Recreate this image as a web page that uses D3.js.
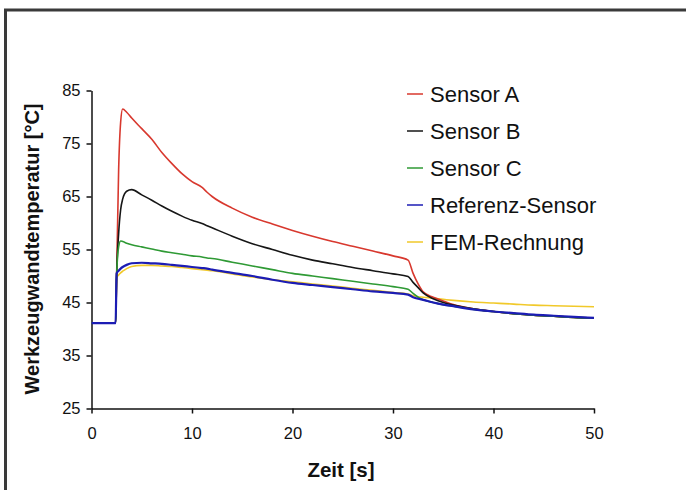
<!DOCTYPE html>
<html>
<head>
<meta charset="utf-8">
<script src="https://cdn.jsdelivr.net/npm/d3@7"></script>
<style>
  html, body { margin: 0; padding: 0; background: #fff; }
  svg { display: block; }
  text { font-family: "Liberation Sans", Arial, sans-serif; fill: #111; }
</style>
</head>
<body>
<svg id="chart" width="686" height="490"></svg>
<script>
// ---- data ----
const time = [0, 2.4, 2.5, 2.7, 2.9, 3.1, 3.5, 4, 5, 6, 7, 8, 9, 10, 11, 11.5, 12, 14, 16, 18, 20, 22, 24, 26, 28, 30, 31.5, 32, 32.5, 33, 34, 35, 36, 38, 40, 42, 44, 46, 48, 50];
const sensorA = [41.1, 41.1, 50, 70, 79, 81.5, 80.9, 79.8, 77.8, 75.8, 73.3, 71.2, 69.3, 67.8, 66.7, 65.8, 65.0, 62.8, 61.1, 59.8, 58.6, 57.5, 56.5, 55.6, 54.7, 53.8, 53.0, 50.5, 48.5, 47.0, 46.0, 45.3, 44.6, 43.8, 43.3, 42.9, 42.6, 42.4, 42.2, 42.1];
const sensorB = [41.1, 41.1, 50, 58, 62.5, 64.5, 66.0, 66.3, 65.3, 64.3, 63.2, 62.2, 61.3, 60.5, 59.9, 59.5, 59.1, 57.5, 56.1, 55.0, 53.9, 53.0, 52.3, 51.6, 51.0, 50.4, 49.9, 48.8, 47.8, 46.8, 45.7, 45.0, 44.5, 43.8, 43.3, 42.9, 42.6, 42.4, 42.2, 42.1];
const sensorC = [41.1, 41.1, 50, 55.5, 56.6, 56.5, 56.2, 55.9, 55.5, 55.1, 54.7, 54.4, 54.1, 53.8, 53.6, 53.4, 53.3, 52.6, 51.9, 51.2, 50.5, 50.0, 49.5, 49.0, 48.5, 48.0, 47.5, 46.7, 46.0, 45.5, 45.0, 44.6, 44.3, 43.7, 43.3, 42.9, 42.6, 42.4, 42.2, 42.1];
const referenz = [41.1, 41.1, 50.5, 51.0, 51.4, 51.7, 52.1, 52.4, 52.5, 52.4, 52.3, 52.1, 51.9, 51.7, 51.5, 51.4, 51.2, 50.6, 50.0, 49.3, 48.7, 48.3, 47.9, 47.5, 47.1, 46.8, 46.5, 46.0, 45.7, 45.5, 45.0, 44.6, 44.3, 43.7, 43.3, 43.0, 42.7, 42.5, 42.3, 42.1];
const fem = [41.1, 41.1, 49.6, 50.2, 50.6, 50.9, 51.4, 51.8, 52.0, 52.0, 51.9, 51.8, 51.6, 51.4, 51.2, 51.1, 51.0, 50.4, 49.8, 49.3, 48.9, 48.5, 48.1, 47.7, 47.3, 46.9, 46.6, 46.3, 46.1, 46.0, 45.8, 45.6, 45.4, 45.1, 44.9, 44.7, 44.5, 44.4, 44.3, 44.2];

const seriesNames = ["Sensor A", "Sensor B", "Sensor C", "Referenz-Sensor", "FEM-Rechnung"];
const seriesValues = [sensorA, sensorB, sensorC, referenz, fem];
const seriesColors = ["#d8382e", "#161616", "#2f9a35", "#1c1cb4", "#f1c92a"];
const drawOrder = [4, 0, 1, 2, 3];

const xTicks = [0, 10, 20, 30, 40, 50];
const yTicks = [25, 35, 45, 55, 65, 75, 85];
const xTitle = "Zeit [s]";
const yTitle = "Werkzeugwandtemperatur [°C]";

// ---- layout ----
const svg = d3.select("#chart");
const x = d3.scaleLinear().domain([0, 50]).range([91.5, 594]);
const y = d3.scaleLinear().domain([25, 85]).range([408.5, 90.5]);

// frame
svg.append("path")
  .attr("d", "M5.5,490 V10 H686")
  .attr("fill", "none").attr("stroke", "#3a3a3a").attr("stroke-width", 3);

// axes
const xAxis = svg.append("g").attr("transform", `translate(0,${y(25)})`)
  .call(d3.axisBottom(x).tickValues(xTicks).tickSize(5).tickSizeOuter(0).tickPadding(14));
const yAxis = svg.append("g").attr("transform", `translate(${x(0)},0)`)
  .call(d3.axisLeft(y).tickValues(yTicks).tickSize(5).tickSizeOuter(0).tickPadding(6));
[xAxis, yAxis].forEach(g => {
  g.select(".domain").attr("stroke", "#111").attr("stroke-width", 1.5);
  g.selectAll(".tick line").attr("stroke", "#111").attr("stroke-width", 1.5);
  g.selectAll(".tick text").attr("font-size", 16.5).attr("fill", "#111")
    .attr("font-family", "Liberation Sans, Arial, sans-serif");
});

// titles
svg.append("text").attr("x", 341).attr("y", 477).attr("text-anchor", "middle")
  .attr("font-size", 20.5).attr("font-weight", "bold").text(xTitle);
svg.append("text").attr("transform", "translate(39,249) rotate(-90)")
  .attr("text-anchor", "middle").attr("font-size", 20).attr("font-weight", "bold").text(yTitle);

// lines
const line = d3.line().x((d, i) => x(time[i])).y(d => y(d)).curve(d3.curveMonotoneX);
drawOrder.forEach(k => {
  svg.append("path").datum(seriesValues[k])
    .attr("d", line)
    .attr("fill", "none")
    .attr("stroke", seriesColors[k])
    .attr("stroke-width", k === 3 ? 2.2 : 1.6)
    .attr("stroke-linejoin", "round");
});

// legend
const leg = svg.append("g");
seriesNames.forEach((name, i) => {
  const yy = 94 + i * 37;
  leg.append("line").attr("x1", 407).attr("x2", 423).attr("y1", yy).attr("y2", yy)
    .attr("stroke", seriesColors[i]).attr("stroke-width", 1.5);
  leg.append("text").attr("x", 430).attr("y", yy).attr("dy", "0.36em")
    .attr("font-size", 22).text(name);
});
</script>
</body>
</html>
